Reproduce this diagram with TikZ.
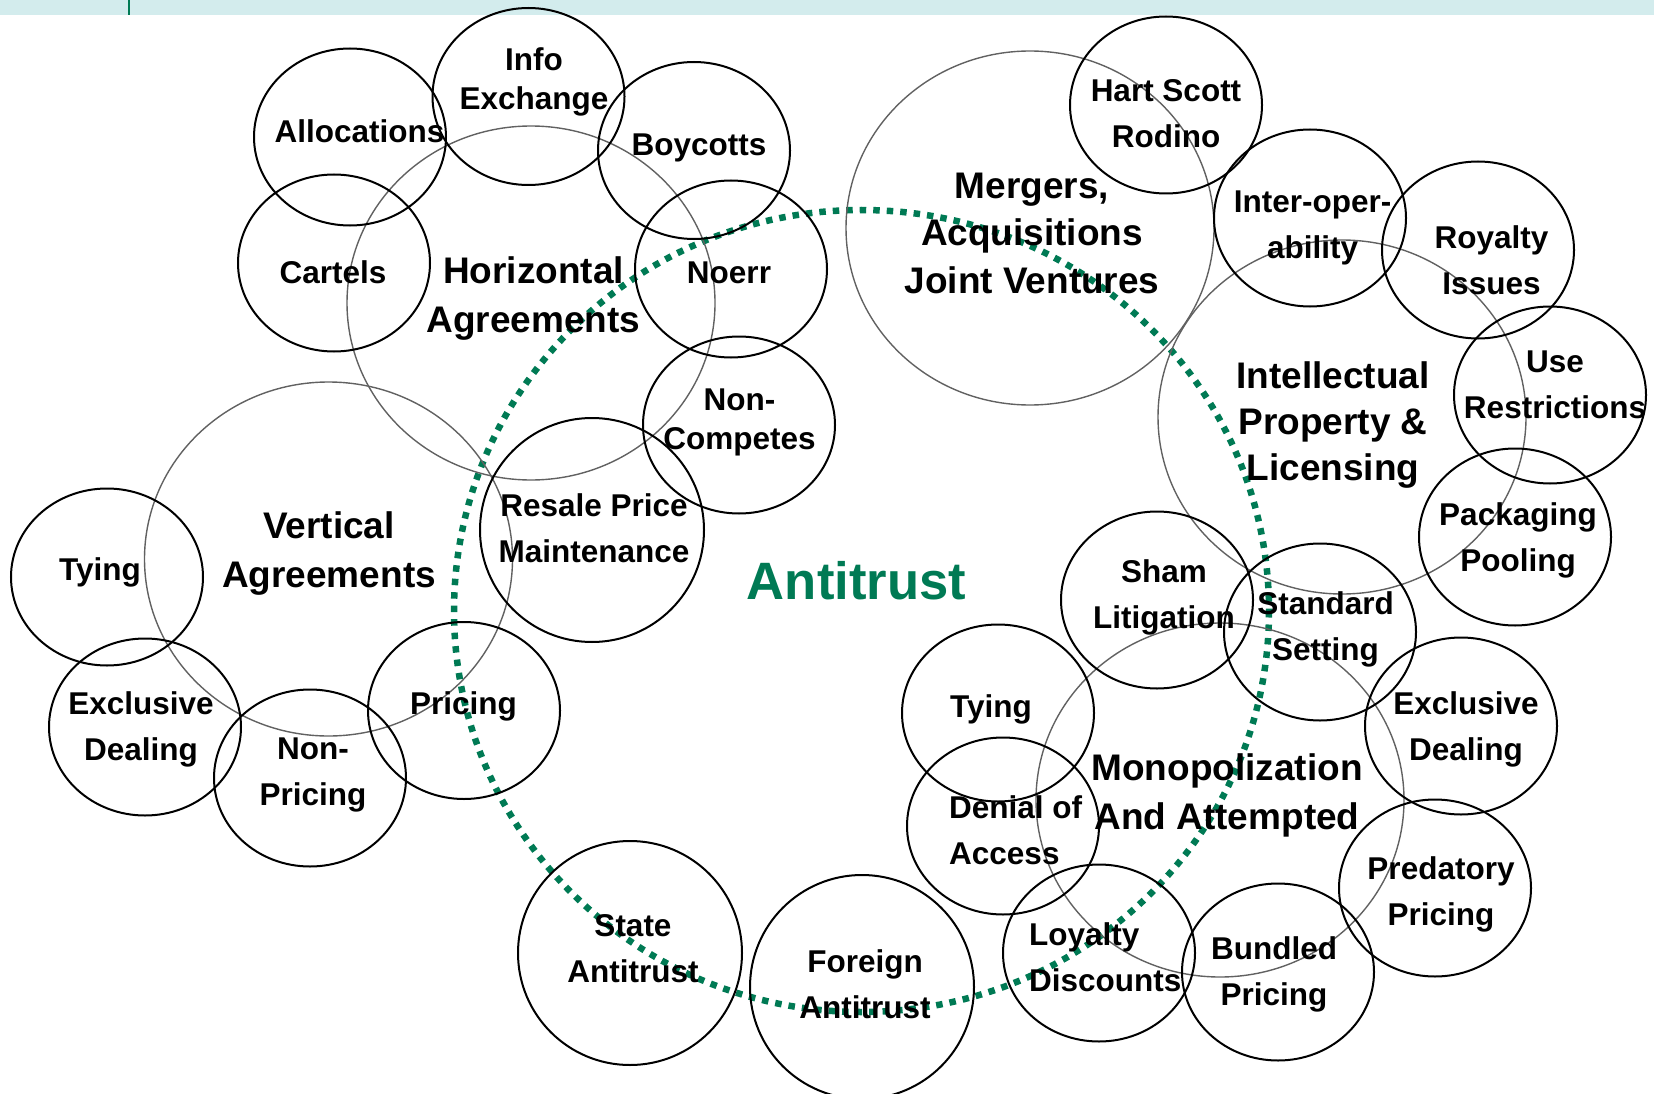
\documentclass[tikz,border=0pt]{standalone}
\usepackage{fontspec}
\setmainfont{Liberation Sans}
\definecolor{atgreen}{RGB}{0,122,84}
\definecolor{barcyan}{RGB}{211,236,237}

\begin{document}
\begin{tikzpicture}[x=1pt, y=-1pt,
		ring/.style={line width=2pt},
		bigring/.style={line width=1.4pt, draw=black!62},
		lbl/.style={align=center, inner sep=0pt, font=\bfseries\fontsize{31.5}{46}\selectfont},
		tight/.style={font=\bfseries\fontsize{31.5}{39}\selectfont},
		biglbl/.style={align=center, inner sep=0pt, font=\bfseries\fontsize{37}{49}\selectfont}]
		\useasboundingbox (0,0) rectangle (1654,1094);
		\fill[barcyan] (0,0) rectangle (1654,15);
		\draw[atgreen, line width=2pt] (129,0) -- (129,15);
	
		\draw[atgreen, line width=6.5pt, dash pattern=on 6.5pt off 7pt] (861.5,611) ellipse[x radius=407.5, y radius=401];
	
		% big topics
		\foreach \p in {(531,303), (328.5,559), (1030,228), (1342,417), (1220,800)} {
			\draw[bigring] \p ellipse[x radius=184, y radius=177];
		}
	
		% small topics
		\foreach \p in {(528.5,96.5), (350,137), (694,150.5), (334,263), (731,269), (739,425),
			(107,577), (145,727), (310,778), (464,710.5),
			(998,713), (1003,826), (1099,953), (1157,600), (1320,632), (1461,726),
			(1435,888), (1278,972), (1166,105), (1310,218), (1478,250), (1550,395), (1515,537)} {
			\draw[ring] \p ellipse[x radius=96, y radius=88.5];
		}
		\foreach \p in {(592,530), (630,953), (862,987)} {
			\draw[ring] \p circle[radius=112];
		}
	
		\node[font=\bfseries\fontsize{52.6}{60}\selectfont, text=atgreen, inner sep=0pt] (antitrust) at (856.5,581) {Antitrust};
	
		\node[biglbl] (horizontal) at (533.5,299) {Horizontal\\Agreements};
		\node[biglbl] (vertical) at (329,554) {Vertical\\Agreements};
		\node[biglbl, font=\bfseries\fontsize{37}{47.5}\selectfont] (mergers) at (1032,233) {Mergers,\\Acquisitions\\Joint Ventures};
		\node[biglbl, font=\bfseries\fontsize{37}{46}\selectfont] (ip) at (1333,425) {Intellectual\\Property \&\\Licensing};
		\node[biglbl] (monopoly) at (1227,795) {Monopolization\\And Attempted};
	
		\node[lbl, tight] (info) at (534,82) {Info\\Exchange};
		\node[lbl] (alloc) at (359.5,131) {Allocations};
		\node[lbl] (boycotts) at (699,147.5) {Boycotts};
		\node[lbl] (cartels) at (333,272) {Cartels};
		\node[lbl] (noerr) at (729,273) {Noerr};
		\node[lbl, tight] (noncomp) at (739.5,422) {Non-\\Competes};
		\node[lbl] (resale) at (594,528) {Resale Price\\Maintenance};
		\node[lbl] (tyingv) at (100,572) {Tying};
		\node[lbl] (exclv) at (141,729) {Exclusive\\Dealing};
		\node[lbl] (nonpricing) at (313,775) {Non-\\Pricing};
		\node[lbl] (pricing) at (463.5,706) {Pricing};
		\node[lbl] (state) at (633,949) {State\\Antitrust};
		\node[lbl] (foreign) at (865,984) {Foreign\\Antitrust};
	
		\node[lbl] (tyingm) at (991,709) {Tying};
		\node[lbl, align=left, anchor=west] (denial) at (949,830) {Denial of\\Access};
		\node[lbl, align=left, anchor=west] (loyalty) at (1029,957) {Loyalty\\Discounts};
		\node[lbl] (sham) at (1164,597) {Sham\\Litigation};
		\node[lbl] (standard) at (1325.5,629) {Standard\\Setting};
		\node[lbl] (exclm) at (1466,729) {Exclusive\\Dealing};
		\node[lbl] (predatory) at (1441,894) {Predatory\\Pricing};
		\node[lbl] (bundled) at (1274,974) {Bundled\\Pricing};
	
		\node[lbl] (hsr) at (1166,114) {Hart Scott\\Rodino};
		\node[lbl] (interop) at (1312.5,228) {Inter-oper-\\ability};
		\node[lbl] (royalty) at (1491.5,260) {Royalty\\Issues};
		\node[lbl] (use) at (1555,385) {Use\\Restrictions};
		\node[lbl] (packaging) at (1518,540) {Packaging\\Pooling};
	\end{tikzpicture}
\end{document}
